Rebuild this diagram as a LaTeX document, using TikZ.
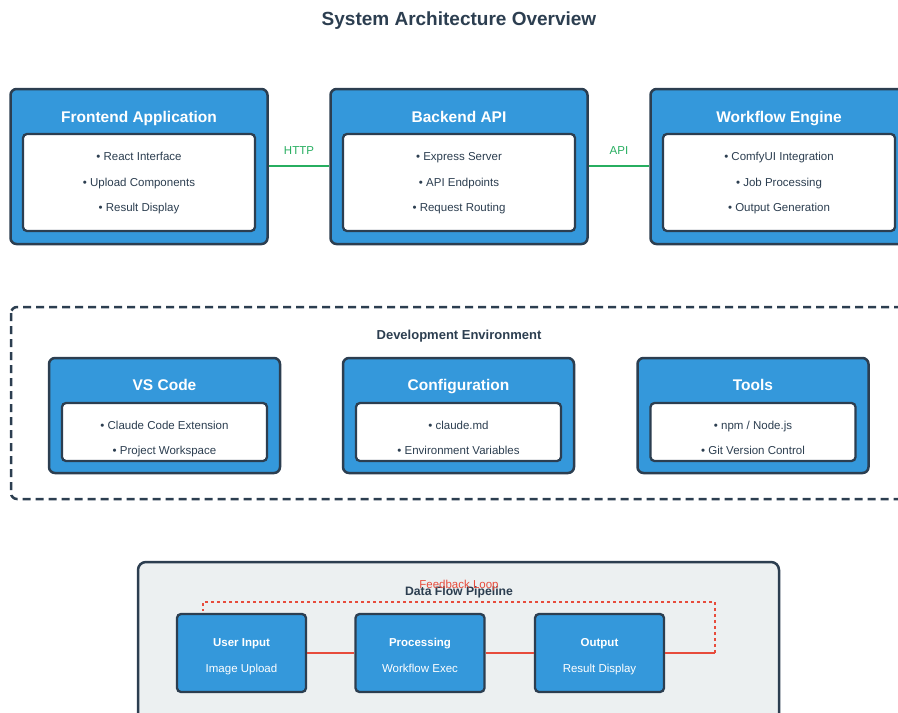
\documentclass[tikz,border=0pt]{standalone}
\usepackage{fontspec}
\setmainfont{Liberation Sans}
\definecolor{cblue}{HTML}{3498DB}
\definecolor{cdark}{HTML}{2C3E50}
\definecolor{cgreen}{HTML}{27AE60}
\definecolor{cred}{HTML}{E74C3C}
\definecolor{clight}{HTML}{ECF0F1}
\tikzset{
  outerbox/.style={draw=cdark, fill=cblue, line width=2.5pt, rounded corners=6pt, inner sep=0pt, minimum width=257pt, minimum height=155pt},
  innerbox/.style={draw=cdark, fill=white, line width=2.3pt, rounded corners=4pt, inner sep=0pt, minimum width=232pt, minimum height=97pt},
  devouter/.style={outerbox, minimum width=231pt, minimum height=115pt},
  devinner/.style={innerbox, minimum width=205pt, minimum height=58pt},
  pipebox/.style={draw=cdark, fill=cblue, line width=2.3pt, rounded corners=4pt, inner sep=0pt, minimum width=129pt, minimum height=78pt},
  boxtitle/.style={anchor=base, inner sep=0pt, text=white, font=\fontsize{15.5}{18}\selectfont\bfseries},
  bullet/.style={anchor=base, inner sep=0pt, text=cdark, font=\fontsize{11.5}{14}\selectfont},
  pipetitle/.style={anchor=base, inner sep=0pt, text=white, font=\fontsize{11.5}{14}\selectfont\bfseries},
  pipesub/.style={anchor=base, inner sep=0pt, text=white, font=\fontsize{11.5}{14}\selectfont},
  greenline/.style={draw=cgreen, line width=2.5pt},
  greenlabel/.style={anchor=base, inner sep=0pt, text=cgreen, font=\fontsize{11.5}{14}\selectfont},
  redline/.style={draw=cred, line width=2.5pt},
  reddotted/.style={draw=cred, line width=2.6pt, dash pattern=on 3pt off 3pt},
  grouplabel/.style={anchor=base, inner sep=0pt, text=cdark, font=\fontsize{13}{16}\selectfont\bfseries},
}
\begin{document}
\begin{tikzpicture}[x=1pt, y=-1pt]
\useasboundingbox (0,0) rectangle (898,713);
\clip (0,0) rectangle (898,713);
\fill[white] (0,0) rectangle (898,713);

% Title
\node[anchor=base, inner sep=0pt, text=cdark, font=\fontsize{19}{23}\selectfont\bfseries] (title) at (459,25.5) {System Architecture Overview};

% Top row
\node[outerbox] (fe) at (139,166.5) {};
\node[innerbox] (fei) at (139,182.5) {};
\node[boxtitle] (fet) at (139,122.7) {Frontend Application};
\node[bullet] (fe1) at (139,160.5) {• React Interface};
\node[bullet] (fe2) at (139,186) {• Upload Components};
\node[bullet] (fe3) at (139,211.3) {• Result Display};

\node[outerbox] (be) at (459,166.5) {};
\node[innerbox] (bei) at (459,182.5) {};
\node[boxtitle] (bet) at (459,122.7) {Backend API};
\node[bullet] (be1) at (459,160.5) {• Express Server};
\node[bullet] (be2) at (459,186) {• API Endpoints};
\node[bullet] (be3) at (459,211.3) {• Request Routing};

\node[outerbox] (wf) at (779,166.5) {};
\node[innerbox] (wfi) at (779,182.5) {};
\node[boxtitle] (wft) at (779,122.7) {Workflow Engine};
\node[bullet] (wf1) at (779,160.5) {• ComfyUI Integration};
\node[bullet] (wf2) at (779,186) {• Job Processing};
\node[bullet] (wf3) at (779,211.3) {• Output Generation};

\draw[greenline] (fe.east |- 0,166) -- (be.west |- 0,166);
\draw[greenline] (be.east |- 0,166) -- (wf.west |- 0,166);
\node[greenlabel] (http) at (299,154) {HTTP};
\node[greenlabel] (api) at (619,154) {API};

% Development environment
\draw[cdark, line width=2.5pt, dash pattern=on 8pt off 5pt, rounded corners=6pt] (11,307) rectangle (915,499);
\node[grouplabel] (devlabel) at (459,339) {Development Environment};

\node[devouter] (vs) at (164.5,415.5) {};
\node[devinner] (vsi) at (164.5,432) {};
\node[boxtitle] (vst) at (164.5,390) {VS Code};
\node[bullet] (vs1) at (164.5,429.3) {• Claude Code Extension};
\node[bullet] (vs2) at (164.5,454.4) {• Project Workspace};

\node[devouter] (cf) at (458.5,415.5) {};
\node[devinner] (cfi) at (458.5,432) {};
\node[boxtitle] (cft) at (458.5,390) {Configuration};
\node[bullet] (cf1) at (458.5,429.3) {• claude.md};
\node[bullet] (cf2) at (458.5,454.4) {• Environment Variables};

\node[devouter] (tl) at (753,415.5) {};
\node[devinner] (tli) at (753,432) {};
\node[boxtitle] (tlt) at (753,390) {Tools};
\node[bullet] (tl1) at (753,429.3) {• npm / Node.js};
\node[bullet] (tl2) at (753,454.4) {• Git Version Control};

% Pipeline
\draw[cdark, fill=clight, line width=2.5pt, rounded corners=8pt] (138,562) rectangle (779,740);
\node[anchor=base, inner sep=0pt, text=cdark, font=\fontsize{12.2}{15}\selectfont\bfseries] (pipelabel) at (459,595) {Data Flow Pipeline};

\node[pipebox] (ui) at (241.5,653) {};
\node[pipetitle] (uit) at (241.5,646.7) {User Input};
\node[pipesub] (uis) at (241.5,672.3) {Image Upload};

\node[pipebox] (pr) at (420,653) {};
\node[pipetitle] (prt) at (420,646.7) {Processing};
\node[pipesub] (prs) at (420,672.3) {Workflow Exec};

\node[pipebox] (ou) at (599.5,653) {};
\node[pipetitle] (out) at (599.5,646.7) {Output};
\node[pipesub] (ous) at (599.5,672.3) {Result Display};

\coordinate (fb1) at (715,653);
\coordinate (fb2) at (715,602);
\coordinate (fb3) at (203,602);
\coordinate (fb4) at (203,611);
\draw[redline] (ui) -- (pr);
\draw[redline] (pr) -- (ou);
\draw[redline] (ou.east) -- (fb1);
\draw[reddotted] (fb1) -- (fb2) -- (fb3) -- (fb4);
\node[anchor=base, inner sep=0pt, text=cred, font=\fontsize{11.5}{14}\selectfont] (fblabel) at (459,588.5) {Feedback Loop};
\end{tikzpicture}
\end{document}
